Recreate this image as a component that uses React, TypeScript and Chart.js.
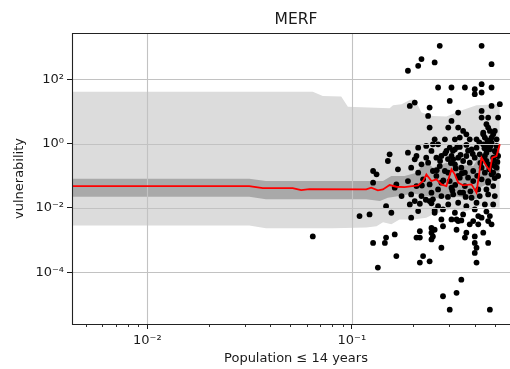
import React, { useEffect, useRef } from "react";
import { Chart, registerables } from "chart.js";

Chart.register(...registerables);

const FONT = "'DejaVu Sans', 'Liberation Sans', sans-serif";

// Axis limits (log scales)
const X_MIN = 0.00428;
const X_MAX = 0.664;
const Y_MIN = 2.47e-6;
const Y_MAX = 2748;

// Tick positions and their labels
const xMajorTicks = [0.01, 0.1];
const xTickLabels = ["10\u207B\u00B2", "10\u207B\u00B9"];
const xMinorTicks = [
  0.005, 0.006, 0.007, 0.008, 0.009,
  0.02, 0.03, 0.04, 0.05, 0.06, 0.07, 0.08, 0.09,
  0.2, 0.3, 0.4, 0.5, 0.6,
];
const yMajorTicks = [1e-4, 1e-2, 1, 1e2];
const yTickLabels = ["10\u207B\u2074", "10\u207B\u00B2", "10\u2070", "10\u00B2"];

// Observed vulnerability per region: [population share <= 14 years, vulnerability]
const observations: [number, number][] = [
  [0.269, 1100], [0.431, 1100], [0.482, 296], [0.254, 334], [0.219, 424],
  [0.211, 263], [0.188, 184], [0.264, 55.6], [0.307, 55.6], [0.357, 55.6],
  [0.399, 49.3], [0.399, 34.4], [0.431, 70.5], [0.431, 38.8], [0.482, 55.6],
  [0.192, 14.9], [0.203, 18.9], [0.24, 13.2], [0.301, 21.3], [0.331, 9.25],
  [0.431, 10.4], [0.482, 14.9], [0.529, 16.8], [0.236, 7.28], [0.307, 5.08],
  [0.431, 6.46], [0.519, 6.46], [0.455, 4.0], [0.464, 6.46], [0.464, 3.15],
  [0.24, 3.15], [0.296, 3.15], [0.153, 0.465], [0.15, 0.288], [0.127, 0.141],
  [0.132, 0.111], [0.127, 0.061], [0.168, 0.159], [0.165, 0.0541], [0.162, 0.0426],
  [0.175, 0.0234], [0.147, 0.0114], [0.156, 0.0071], [0.122, 0.0063], [0.109, 0.0056],
  [0.0644, 0.0013], [0.127, 8.2e-4], [0.147, 0.0012], [0.145, 8.2e-4], [0.162, 0.0015],
  [0.165, 3.2e-4], [0.134, 1.4e-4], [0.195, 0.005], [0.215, 0.0019], [0.207, 0.0012],
  [0.215, 0.0012], [0.245, 0.0024], [0.254, 0.0021], [0.245, 0.0017], [0.245, 0.00105],
  [0.279, 0.0027], [0.274, 0.0044], [0.307, 0.0044], [0.325, 0.0044], [0.331, 0.0039],
  [0.325, 0.0021], [0.377, 0.0031], [0.392, 0.0039], [0.415, 0.0031], [0.464, 0.0039],
  [0.482, 0.0031], [0.439, 0.0017], [0.415, 0.0056], [0.363, 0.0017], [0.357, 0.0012],
  [0.399, 0.0013], [0.399, 8.2e-4], [0.407, 5.8e-4], [0.399, 4.0e-4], [0.464, 8.2e-4],
  [0.274, 5.8e-4], [0.223, 3.2e-4], [0.215, 2.0e-4], [0.24, 2.2e-4], [0.407, 2.0e-4],
  [0.343, 5.9e-5], [0.325, 2.3e-5], [0.279, 1.8e-5], [0.301, 6.9e-6], [0.473, 6.9e-6],
  [0.249, 0.0013], [0.331, 3.15], [0.35, 2.48], [0.473, 2.48], [0.491, 1.95],
  [0.439, 2.2], [0.254, 1.36], [0.285, 1.36], [0.319, 1.36], [0.337, 1.54],
  [0.377, 1.36], [0.447, 1.54], [0.482, 1.54], [0.51, 1.36], [0.211, 0.75],
  [0.231, 0.846], [0.264, 0.953], [0.301, 0.75], [0.319, 0.666], [0.337, 0.79],
  [0.363, 0.91], [0.385, 0.666], [0.407, 0.75], [0.439, 0.953], [0.464, 0.846],
  [0.482, 1.07], [0.5, 0.591], [0.203, 0.325], [0.245, 0.591], [0.259, 0.366],
  [0.274, 0.413], [0.307, 0.413], [0.331, 0.366], [0.363, 0.413], [0.399, 0.366],
  [0.422, 0.465], [0.455, 0.525], [0.491, 0.366], [0.195, 0.179], [0.219, 0.227],
  [0.236, 0.256], [0.269, 0.201], [0.285, 0.141], [0.319, 0.227], [0.343, 0.179],
  [0.377, 0.256], [0.392, 0.141], [0.431, 0.179], [0.464, 0.227], [0.5, 0.201],
  [0.211, 0.125], [0.249, 0.141], [0.357, 0.125], [0.447, 0.125], [0.482, 0.111],
  [0.188, 0.0687], [0.223, 0.0774], [0.207, 0.048], [0.24, 0.0541], [0.274, 0.061],
  [0.307, 0.0426], [0.337, 0.0873], [0.357, 0.048], [0.392, 0.0687], [0.431, 0.0774],
  [0.464, 0.061], [0.491, 0.048], [0.264, 0.0378], [0.415, 0.0378], [0.455, 0.0378],
  [0.195, 0.0264], [0.219, 0.0234], [0.245, 0.0298], [0.274, 0.0234], [0.313, 0.0264],
  [0.35, 0.0298], [0.385, 0.0208], [0.422, 0.0234], [0.464, 0.0264], [0.5, 0.0234],
  [0.192, 0.0129], [0.215, 0.0135], [0.24, 0.0164], [0.264, 0.0114], [0.296, 0.0129],
  [0.331, 0.0145], [0.363, 0.0114], [0.407, 0.0145], [0.447, 0.0129], [0.491, 0.0129],
  [0.211, 0.008], [0.254, 0.0071], [0.279, 0.009], [0.319, 0.0071], [0.35, 0.0063],
  [0.399, 0.009], [0.455, 0.0077], [0.473, 0.0056], [0.431, 0.005], [0.51, 0.846],
  [0.519, 0.413], [0.473, 0.666], [0.51, 0.179], [0.455, 0.288], [0.439, 1.95],
  [0.473, 1.21], [0.5, 2.48], [0.447, 0.413], [0.491, 0.125], [0.464, 0.0687],
  [0.519, 0.0984], [0.29, 0.591], [0.313, 0.325], [0.35, 0.288], [0.296, 0.125],
  [0.331, 0.0984], [0.37, 0.0873], [0.259, 0.0984], [0.231, 0.366], [0.301, 0.0687],
  [0.249, 0.0185], [0.207, 0.413], [0.188, 0.525], [0.203, 0.0164], [0.245, 0.0139],
  [0.254, 0.0084], [0.249, 0.953], [0.407, 1.36], [0.363, 1.95], [0.343, 0.0041],
  [0.286, 0.5], [0.295, 0.33], [0.305, 0.25], [0.312, 0.6], [0.322, 0.17],
  [0.328, 0.8], [0.34, 0.45], [0.345, 0.12], [0.31, 0.035], [0.32, 0.052],
  [0.338, 0.03], [0.295, 0.022], [0.27, 0.29], [0.28, 0.072], [0.26, 0.15],
  [0.42, 1.1], [0.445, 0.72], [0.46, 1.25], [0.478, 0.88], [0.495, 0.3],
  [0.505, 0.55], [0.485, 0.22], [0.44, 0.33], [0.425, 0.25], [0.47, 0.16],
  [0.5, 0.085], [0.515, 0.27], [0.455, 0.95], [0.39, 0.48], [0.37, 0.6],
  [0.38, 0.033], [0.36, 0.022], [0.41, 0.1], [0.23, 0.018], [0.22, 0.05],
];

// Fitted mean curve
const meanCurve: [number, number][] = [
  [0.0042, 0.048], [0.0315, 0.048], [0.0367, 0.0416], [0.0514, 0.0416], [0.0565, 0.036],
  [0.062, 0.0387], [0.1175, 0.0378], [0.1244, 0.0426], [0.134, 0.0352], [0.1419, 0.0378],
  [0.153, 0.0515], [0.165, 0.0457], [0.181, 0.0445], [0.2106, 0.0504], [0.2229, 0.0687],
  [0.2314, 0.111], [0.245, 0.0687], [0.259, 0.0774], [0.274, 0.0541], [0.2899, 0.048],
  [0.307, 0.159], [0.3186, 0.111], [0.331, 0.061], [0.35, 0.0504], [0.3846, 0.0541],
  [0.4066, 0.0298], [0.4305, 0.366], [0.455, 0.201], [0.473, 0.141], [0.4856, 0.366],
  [0.5097, 0.413], [0.529, 0.953],
];

// Outer (wide) interval
const outerUpper: [number, number][] = [
  [0.0042, 40.7], [0.0644, 40.7], [0.0721, 30.5], [0.0887, 29.1], [0.0956, 13.9],
  [0.153, 12.6], [0.159, 15.6], [0.175, 16.8], [0.192, 22.9], [0.203, 24.0],
  [0.219, 9.25], [0.249, 7.28], [0.29, 6.94], [0.337, 10.4], [0.407, 15.6], [0.529, 16.8],
];
const outerLower: [number, number][] = [
  [0.0042, 0.00286], [0.0315, 0.00286], [0.038, 0.00236], [0.0807, 0.00236], [0.1175, 0.00248],
  [0.132, 0.0027], [0.142, 0.0036], [0.156, 0.0031], [0.171, 0.0044], [0.199, 0.0044],
  [0.231, 0.005], [0.249, 0.0063], [0.301, 0.009], [0.363, 0.008], [0.422, 0.0114], [0.529, 0.0101],
];

// Inner (narrow) interval
const innerUpper: [number, number][] = [
  [0.0042, 0.0812], [0.0315, 0.0812], [0.038, 0.0687], [0.1175, 0.0687], [0.142, 0.0687],
  [0.156, 0.0984], [0.181, 0.0984], [0.207, 0.125], [0.219, 0.201], [0.236, 0.256],
  [0.249, 0.179], [0.29, 0.256], [0.313, 0.227], [0.392, 0.201], [0.422, 0.413],
  [0.491, 0.591], [0.529, 0.846],
];
const innerLower: [number, number][] = [
  [0.0042, 0.0223], [0.0315, 0.0223], [0.038, 0.0185], [0.1175, 0.0185], [0.137, 0.0164],
  [0.15, 0.0208], [0.171, 0.0234], [0.199, 0.028], [0.231, 0.0234], [0.269, 0.0195],
  [0.313, 0.0234], [0.407, 0.0185], [0.422, 0.0426], [0.491, 0.0687], [0.529, 0.141],
];

const MEAN_INDEX = 5;
const GRID_COLOR = "#c2c2c2";
const INK = "#1a1a1a";

const toXY = (pts: [number, number][]) => pts.map(([x, y]) => ({ x, y }));

const axesDecor = {
  id: "axesDecor",
  beforeDatasetDraw(chart: any, args: any) {
    if (args.index !== MEAN_INDEX) return;
    const { ctx, chartArea: a, scales } = chart;
    ctx.save();
    ctx.strokeStyle = GRID_COLOR;
    ctx.lineWidth = 1.1;
    ctx.beginPath();
    for (const v of xMajorTicks) {
      const p = Math.round(scales.x.getPixelForValue(v)) + 0.5;
      ctx.moveTo(p, a.top);
      ctx.lineTo(p, a.bottom);
    }
    for (const v of yMajorTicks) {
      const p = Math.round(scales.y.getPixelForValue(v)) + 0.5;
      ctx.moveTo(a.left, p);
      ctx.lineTo(a.right, p);
    }
    ctx.stroke();
    ctx.restore();
  },
  afterDraw(chart: any) {
    const { ctx, chartArea: a, scales } = chart;
    ctx.save();
    ctx.strokeStyle = INK;
    ctx.lineWidth = 0.9;
    ctx.beginPath();
    for (const v of xMinorTicks) {
      const p = Math.round(scales.x.getPixelForValue(v)) + 0.5;
      ctx.moveTo(p, a.bottom);
      ctx.lineTo(p, a.bottom + 3);
    }
    ctx.stroke();
    ctx.lineWidth = 1.1;
    ctx.strokeStyle = "#222";
    ctx.beginPath();
    ctx.moveTo(a.left + 0.5, a.top + 0.5);
    ctx.lineTo(a.right, a.top + 0.5);
    ctx.lineTo(a.right, a.bottom + 0.5);
    ctx.lineTo(a.left + 0.5, a.bottom + 0.5);
    ctx.closePath();
    ctx.stroke();
    ctx.restore();
  },
};

export default function App() {
  const canvasRef = useRef<HTMLCanvasElement>(null);

  useEffect(() => {
    const canvas = canvasRef.current;
    if (!canvas) return;
    const chart = new Chart(canvas, {
      type: "scatter",
      data: {
        datasets: [
          {
            type: "line",
            data: toXY(outerUpper),
            borderColor: "rgba(0,0,0,0)",
            borderWidth: 0,
            pointRadius: 0,
            fill: "+1",
            backgroundColor: "#dcdcdc",
            order: 6,
          },
          {
            type: "line",
            data: toXY(outerLower),
            borderColor: "rgba(0,0,0,0)",
            borderWidth: 0,
            pointRadius: 0,
            fill: false,
            order: 6,
          },
          {
            type: "line",
            data: toXY(innerUpper),
            borderColor: "rgba(0,0,0,0)",
            borderWidth: 0,
            pointRadius: 0,
            fill: "+1",
            backgroundColor: "#a9a9a9",
            order: 5,
          },
          {
            type: "line",
            data: toXY(innerLower),
            borderColor: "rgba(0,0,0,0)",
            borderWidth: 0,
            pointRadius: 0,
            fill: false,
            order: 5,
          },
          {
            type: "scatter",
            data: toXY(observations),
            pointRadius: 2.9,
            pointBackgroundColor: "#000",
            pointBorderColor: "#000",
            pointBorderWidth: 0,
            order: 2,
          },
          {
            type: "line",
            data: toXY(meanCurve),
            borderColor: "#ff0000",
            borderWidth: 1.8,
            pointRadius: 0,
            fill: false,
            tension: 0,
            order: 1,
          },
        ],
      },
      options: {
        responsive: false,
        animation: false,
        devicePixelRatio: 1,
        layout: { padding: { left: 0, right: 20, top: 0, bottom: 0 } },
        plugins: {
          legend: { display: false },
          tooltip: { enabled: false },
          title: {
            display: true,
            text: "MERF",
            fullSize: false,
            color: INK,
            font: { family: FONT, size: 15.5, weight: "normal" },
            padding: { top: 10.7, bottom: 3.7 },
          },
        },
        scales: {
          x: {
            type: "logarithmic",
            position: "bottom",
            min: X_MIN,
            max: X_MAX,
            bounds: "data",
            afterBuildTicks: (s: any) => {
              s.ticks = xMajorTicks.map((v) => ({ value: v }));
            },
            afterFit: (s: any) => {
              s.height = 45;
            },
            ticks: {
              autoSkip: false,
              maxRotation: 0,
              padding: 3.5,
              color: INK,
              font: { family: FONT, size: 13 },
              callback: (_v: any, i: number) => xTickLabels[i],
            },
            grid: {
              display: true,
              drawOnChartArea: false,
              drawTicks: true,
              tickLength: 5,
              tickWidth: 1,
              tickColor: INK,
              color: INK,
            },
            border: { display: false },
            title: {
              display: true,
              text: "Population \u2264 14 years",
              color: INK,
              font: { family: FONT, size: 13 },
              padding: { top: 0, bottom: 3 },
            },
          },
          y: {
            type: "logarithmic",
            position: "left",
            min: Y_MIN,
            max: Y_MAX,
            bounds: "data",
            afterBuildTicks: (s: any) => {
              s.ticks = yMajorTicks.map((v) => ({ value: v }));
            },
            afterFit: (s: any) => {
              s.width = 72;
            },
            ticks: {
              autoSkip: false,
              padding: 3,
              color: INK,
              font: { family: FONT, size: 13 },
              callback: (_v: any, i: number) => yTickLabels[i],
            },
            grid: {
              display: true,
              drawOnChartArea: false,
              drawTicks: true,
              tickLength: 5,
              tickWidth: 1,
              tickColor: INK,
              color: INK,
            },
            border: { display: false },
            title: {
              display: true,
              text: "vulnerability",
              color: INK,
              font: { family: FONT, size: 13 },
              padding: { top: 12, bottom: 0 },
            },
          },
        },
      },
      plugins: [axesDecor],
    } as any);
    return () => chart.destroy();
  }, []);

  return (
    <div
      style={{
        position: "absolute",
        left: 0,
        top: 0,
        width: 510,
        height: 369,
        overflow: "hidden",
        background: "#fff",
      }}
    >
      <canvas ref={canvasRef} width={540} height={369} style={{ display: "block" }} />
    </div>
  );
}
